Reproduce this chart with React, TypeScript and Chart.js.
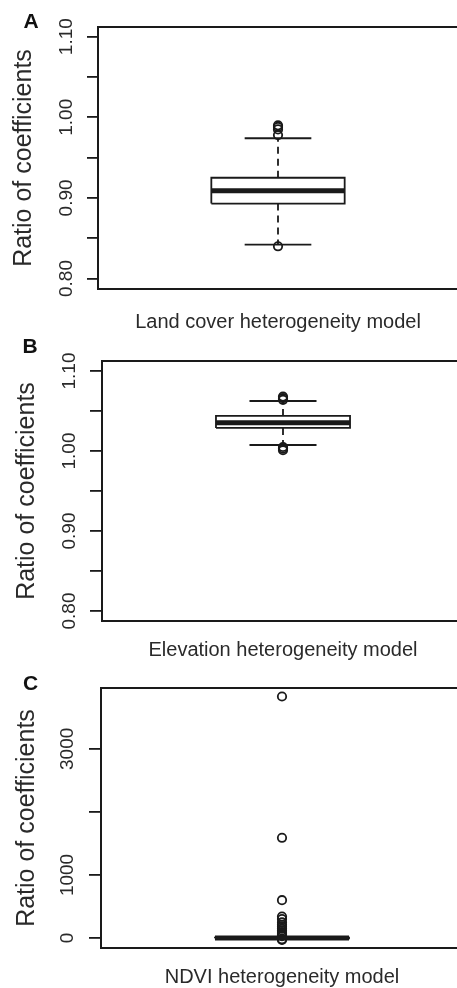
import React, { useEffect, useRef } from 'react';
import { Chart, registerables } from 'chart.js';

Chart.register(...registerables);

const FONT = '"Liberation Sans", Arial, Helvetica, sans-serif';
const INK = '#1a1a1a';
const TEXT = '#2a2a2a';

// ---- Panel A: land cover ----
const categoryA = 'Land cover heterogeneity model';
// [lower whisker, Q1, median, Q3, upper whisker]
const boxA = [0.842, 0.893, 0.909, 0.925, 0.974];
const outliersA = [0.99, 0.988, 0.985, 0.978, 0.84];
const tickValuesA = [0.8, 0.85, 0.9, 0.95, 1.0, 1.05, 1.1];
const tickLabelsA = ['0.80', '', '0.90', '', '1.00', '', '1.10'];
const rangeA = [0.787, 1.112];

// ---- Panel B: elevation ----
const categoryB = 'Elevation heterogeneity model';
const boxB = [1.0075, 1.0288, 1.0354, 1.0438, 1.0625];
const outliersB = [1.068, 1.066, 1.064, 1.005, 1.003, 1.001];
const tickValuesB = [0.8, 0.85, 0.9, 0.95, 1.0, 1.05, 1.1];
const tickLabelsB = ['0.80', '', '0.90', '', '1.00', '', '1.10'];
const rangeB = [0.7875, 1.1125];

// ---- Panel C: NDVI ----
const categoryC = 'NDVI heterogeneity model';
const boxC = [-8, -3, 1, 5, 14];
const outliersC = [3830, 1590, 600, 340, 300, 250, 210, 180, 150, 120, 95, 75, 55, 40, 30, -20, -30];
const tickValuesC = [0, 1000, 2000, 3000];
const tickLabelsC = ['0', '1000', '', '3000'];
const rangeC = [-158, 3965];

const yTitle = 'Ratio of coefficients';

// box geometry in x-axis units (R boxplot style)
const CENTER = 1;
const BOX_HALF = 0.2;
const CAP_HALF = 0.1;

const framePlugin = {
  id: 'frame',
  beforeDatasetsDraw(chart: any) {
    const { ctx, chartArea } = chart;
    ctx.save();
    ctx.strokeStyle = INK;
    ctx.lineWidth = 2;
    ctx.strokeRect(chartArea.left, chartArea.top, chartArea.right - chartArea.left, chartArea.bottom - chartArea.top);
    ctx.restore();
  },
};

type PanelProps = {
  top: number;
  width: number;
  height: number;
  padTop: number;
  padRight: number;
  yAxisWidth: number;
  xAxisHeight: number;
  yTitlePad: number;
  xTitlePad: number;
  tickLen: number;
  tickPad: number;
  category: string;
  box: number[];
  outliers: number[];
  tickValues: number[];
  tickLabels: string[];
  range: number[];
};

function BoxPanel(p: PanelProps) {
  const ref = useRef<HTMLCanvasElement | null>(null);
  useEffect(() => {
    if (!ref.current) return;
    const [lo, q1, med, q3, hi] = p.box;
    const line = (data: any[], width: number, dash: number[] = []) => ({
      data,
      showLine: true,
      borderColor: INK,
      backgroundColor: INK,
      borderWidth: width,
      borderDash: dash,
      pointRadius: 0,
      borderCapStyle: 'butt',
      tension: 0,
    });
    const datasets: any[] = [
      line(
        [
          { x: CENTER - BOX_HALF, y: q1 },
          { x: CENTER + BOX_HALF, y: q1 },
          { x: CENTER + BOX_HALF, y: q3 },
          { x: CENTER - BOX_HALF, y: q3 },
          { x: CENTER - BOX_HALF, y: q1 },
        ],
        1.8
      ),
      line([{ x: CENTER - BOX_HALF, y: med }, { x: CENTER + BOX_HALF, y: med }], 5),
      line([{ x: CENTER, y: q3 }, { x: CENTER, y: hi }], 1.8, [7, 5]),
      line([{ x: CENTER, y: q1 }, { x: CENTER, y: lo }], 1.8, [7, 5]),
      line([{ x: CENTER - CAP_HALF, y: hi }, { x: CENTER + CAP_HALF, y: hi }], 1.8),
      line([{ x: CENTER - CAP_HALF, y: lo }, { x: CENTER + CAP_HALF, y: lo }], 1.8),
      {
        data: p.outliers.map((v) => ({ x: CENTER, y: v })),
        showLine: false,
        pointStyle: 'circle',
        pointRadius: 4.2,
        pointBorderWidth: 1.8,
        pointBorderColor: INK,
        pointBackgroundColor: 'rgba(0,0,0,0)',
      },
    ];
    const chart = new Chart(ref.current, {
      type: 'scatter',
      data: { datasets },
      plugins: [framePlugin],
      options: {
        animation: false,
        responsive: false,
        devicePixelRatio: 1,
        events: [],
        layout: { padding: { top: p.padTop, right: p.padRight, left: 0, bottom: 0 } },
        plugins: { legend: { display: false }, tooltip: { enabled: false }, title: { display: false } },
        scales: {
          x: {
            type: 'linear',
            position: 'bottom',
            min: 0.46,
            max: 1.54,
            ticks: { display: false },
            grid: { display: false, drawTicks: false },
            border: { display: false },
            title: {
              display: true,
              text: p.category,
              color: TEXT,
              font: { family: FONT, size: 20 },
              padding: { top: 0, bottom: p.xTitlePad },
            },
            afterFit: (s: any) => {
              s.height = p.xAxisHeight;
            },
          },
          y: {
            type: 'linear',
            position: 'left',
            min: p.range[0],
            max: p.range[1],
            afterBuildTicks: (s: any) => {
              s.ticks = p.tickValues.map((v) => ({ value: v }));
            },
            ticks: {
              autoSkip: false,
              minRotation: 90,
              maxRotation: 90,
              crossAlign: 'center',
              padding: p.tickPad,
              color: TEXT,
              font: { family: FONT, size: 19 },
              callback: (_v: any, i: number) => p.tickLabels[i],
            },
            grid: {
              display: true,
              drawOnChartArea: false,
              drawTicks: true,
              tickLength: p.tickLen,
              color: INK,
              lineWidth: 1.8,
            },
            border: { display: false },
            title: {
              display: true,
              text: yTitle,
              color: TEXT,
              font: { family: FONT, size: 25 },
              padding: { top: p.yTitlePad, bottom: 0 },
            },
            afterFit: (s: any) => {
              s.width = p.yAxisWidth;
            },
          },
        },
      } as any,
    });
    return () => chart.destroy();
  }, []);
  return (
    <canvas
      ref={ref}
      width={p.width}
      height={p.height}
      style={{ position: 'absolute', left: 0, top: p.top, width: p.width, height: p.height }}
    />
  );
}

function Letter({ text, cx, cy }: { text: string; cx: number; cy: number }) {
  return (
    <div
      style={{
        position: 'absolute',
        left: cx - 20,
        top: cy - 10.5,
        width: 40,
        textAlign: 'center',
        fontFamily: FONT,
        fontWeight: 'bold',
        fontSize: 21,
        lineHeight: '21px',
        color: '#111',
      }}
    >
      {text}
    </div>
  );
}

export default function App() {
  return (
    <div
      style={{
        position: 'absolute',
        left: 0,
        top: 0,
        width: 457,
        height: 988,
        overflow: 'hidden',
        background: '#fff',
      }}
    >
      <BoxPanel
        top={0}
        width={464}
        height={340}
        padTop={27}
        padRight={6}
        yAxisWidth={98}
        xAxisHeight={51}
        yTitlePad={9}
        xTitlePad={6}
        tickLen={11}
        tickPad={2}
        category={categoryA}
        box={boxA}
        outliers={outliersA}
        tickValues={tickValuesA}
        tickLabels={tickLabelsA}
        range={rangeA}
      />
      <BoxPanel
        top={330}
        width={470}
        height={338}
        padTop={31}
        padRight={6}
        yAxisWidth={102}
        xAxisHeight={47}
        yTitlePad={12}
        xTitlePad={6}
        tickLen={12}
        tickPad={2}
        category={categoryB}
        box={boxB}
        outliers={outliersB}
        tickValues={tickValuesB}
        tickLabels={tickLabelsB}
        range={rangeB}
      />
      <BoxPanel
        top={660}
        width={470}
        height={329}
        padTop={28}
        padRight={7}
        yAxisWidth={101}
        xAxisHeight={41}
        yTitlePad={12}
        xTitlePad={0}
        tickLen={12}
        tickPad={0}
        category={categoryC}
        box={boxC}
        outliers={outliersC}
        tickValues={tickValuesC}
        tickLabels={tickLabelsC}
        range={rangeC}
      />
      <Letter text="A" cx={31} cy={20.5} />
      <Letter text="B" cx={30} cy={345.5} />
      <Letter text="C" cx={30.5} cy={682} />
    </div>
  );
}
